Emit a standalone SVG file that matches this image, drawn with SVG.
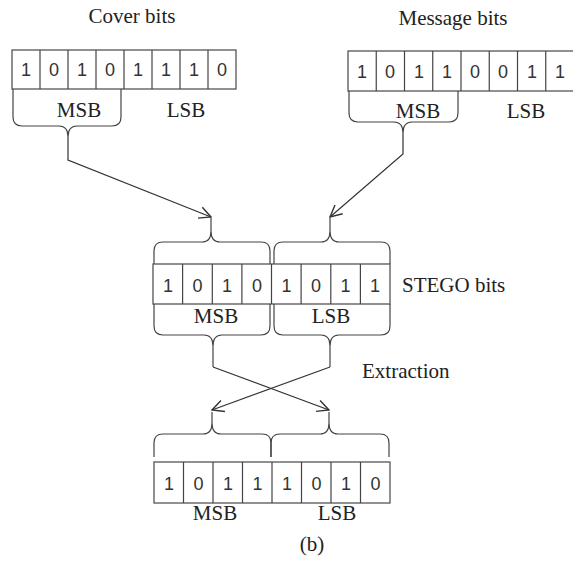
<svg xmlns="http://www.w3.org/2000/svg" width="573" height="562" viewBox="0 0 573 562">
<defs>
<marker id="arr" markerUnits="userSpaceOnUse" markerWidth="14" markerHeight="14" refX="11" refY="6" orient="auto" viewBox="0 0 12 12">
<path d="M1,1 L11,6 L1,11" fill="none" stroke="#333" stroke-width="1.2"/>
</marker>
</defs>
<style>
.cell{fill:#fff;stroke:#555;stroke-width:1.3}
.dg{font-family:"Liberation Sans",Arial,sans-serif;font-size:18px;fill:#333;text-anchor:middle}
.lb{font-family:"Liberation Serif","Times New Roman",serif;font-size:21px;fill:#222}
.c{text-anchor:middle}
.br{fill:none;stroke:#444;stroke-width:1.2}
.cn{fill:none;stroke:#333;stroke-width:1.2}
</style>
<rect width="573" height="562" fill="#fff"/>

<g id="cover">
<text class="lb c" x="132" y="23">Cover bits</text>
<rect class="cell" x="12" y="50" width="224" height="39"/>
<path class="br" d="M40,50V89M68,50V89M96,50V89M124,50V89M152,50V89M180,50V89M208,50V89"/>
<text class="dg" x="26" y="76">1</text><text class="dg" x="54" y="76">0</text><text class="dg" x="82" y="76">1</text><text class="dg" x="110" y="76">0</text>
<text class="dg" x="138" y="76">1</text><text class="dg" x="166" y="76">1</text><text class="dg" x="194" y="76">1</text><text class="dg" x="222" y="76">0</text>
<path class="br" d="M13,89 L13,117 Q13,126 22,126 L59,126 Q68,126 68,137 Q68,126 77,126 L112,126 Q121,126 121,117 L121,89"/>
<text class="lb c" x="79" y="117">MSB</text>
<text class="lb c" x="186" y="117">LSB</text>
</g>

<g id="message">
<text class="lb c" x="453" y="25">Message bits</text>
<rect class="cell" x="348" y="51" width="228" height="40"/>
<path class="br" d="M376.25,51V91M404.5,51V91M432.75,51V91M461,51V91M489.25,51V91M517.5,51V91M545.75,51V91"/>
<text class="dg" x="362" y="78">1</text><text class="dg" x="390" y="78">0</text><text class="dg" x="419" y="78">1</text><text class="dg" x="447" y="78">1</text>
<text class="dg" x="475" y="78">0</text><text class="dg" x="503" y="78">0</text><text class="dg" x="532" y="78">1</text><text class="dg" x="560" y="78">1</text>
<path class="br" d="M349,91 L349,113 Q349,122 358,122 L394,122 Q403,122 403,133 Q403,122 412,122 L449,122 Q458,122 458,113 L458,91"/>
<text class="lb c" x="418" y="118">MSB</text>
<text class="lb c" x="526" y="118">LSB</text>
</g>

<g id="stego">
<path class="br" d="M154,264 L154,251 Q154,242 163,242 L202,242 Q211,242 211,231 Q211,242 220,242 L261,242 Q270,242 270,251 L270,264 M211,231 L211,218"/>
<path class="br" d="M274,264 L274,251 Q274,242 283,242 L321,242 Q330,242 330,231 Q330,242 339,242 L381,242 Q390,242 390,251 L390,264 M330,231 L330,218"/>
<rect class="cell" x="153" y="264" width="237" height="40"/>
<path class="br" d="M182.6,264V304M212.3,264V304M241.9,264V304M271.5,264V304M301.1,264V304M330.8,264V304M360.4,264V304"/>
<text class="dg" x="168" y="292">1</text><text class="dg" x="197.5" y="292">0</text><text class="dg" x="227" y="292">1</text><text class="dg" x="257" y="292">0</text>
<text class="dg" x="286.5" y="292">1</text><text class="dg" x="316" y="292">0</text><text class="dg" x="345.5" y="292">1</text><text class="dg" x="375" y="292">1</text>
<text class="lb" x="402" y="292">STEGO bits</text>
<path class="br" d="M154,304 L154,326 Q154,335 163,335 L204,335 Q213,335 213,346 Q213,335 222,335 L261,335 Q270,335 270,326 L270,304 M213,346 L213,367"/>
<path class="br" d="M274,304 L274,326 Q274,335 283,335 L321,335 Q330,335 330,346 Q330,335 339,335 L381,335 Q390,335 390,326 L390,304 M330,346 L330,367"/>
<text class="lb c" x="216" y="323">MSB</text>
<text class="lb c" x="331" y="323">LSB</text>
<text class="lb" x="362" y="378">Extraction</text>
</g>

<g id="result">
<path class="br" d="M154,457 L154,443 Q154,434 163,434 L203,434 Q212,434 212,423 Q212,434 221,434 L262,434 Q271,434 271,443 L271,457 M212,423 L212,412"/>
<path class="br" d="M271,457 L271,443 Q271,434 280,434 L320,434 Q329,434 329,423 Q329,434 338,434 L380,434 Q389,434 389,443 L389,457 M329,423 L329,412"/>
<rect class="cell" x="154" y="462" width="236" height="41"/>
<path class="br" d="M183.5,462V503M213,462V503M242.5,462V503M272,462V503M301.5,462V503M331,462V503M360.5,462V503"/>
<text class="dg" x="169" y="490">1</text><text class="dg" x="198.5" y="490">0</text><text class="dg" x="228" y="490">1</text><text class="dg" x="257.5" y="490">1</text>
<text class="dg" x="287" y="490">1</text><text class="dg" x="316.5" y="490">0</text><text class="dg" x="346" y="490">1</text><text class="dg" x="375.5" y="490">0</text>
<text class="lb c" x="215" y="520">MSB</text>
<text class="lb c" x="337" y="520">LSB</text>
<text class="lb c" x="312" y="551">(b)</text>
</g>

<g id="connectors">
<path class="cn" d="M68,137 L68,160 L211,217" marker-end="url(#arr)"/>
<path class="cn" d="M403,133 L403,154 L330,217" marker-end="url(#arr)"/>
<path class="cn" d="M213,367 L329,410" marker-end="url(#arr)"/>
<path class="cn" d="M330,367 L212,410" marker-end="url(#arr)"/>
</g>
</svg>
